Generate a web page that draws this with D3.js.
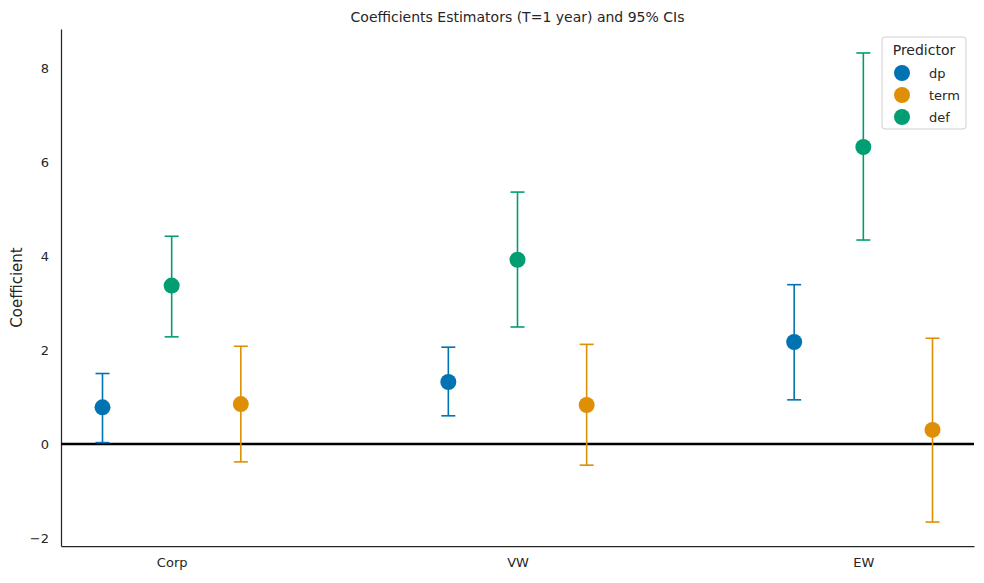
<!DOCTYPE html>
<html><head><meta charset="utf-8">
<script src="https://cdn.jsdelivr.net/npm/d3@7"></script>
<style>body{margin:0;background:#fff}text{font-family:"DejaVu Sans",sans-serif;fill:#262626}</style>
</head><body><svg id="c" width="984" height="583"></svg>
<script>
var categories = ["Corp", "VW", "EW"];
var series = ["dp", "term", "def"];
var colors = ["#0173b2", "#de8f05", "#029e73"];
var offsets = [-0.2, 0.2, 0];
var estimates = {dp: [0.78, 1.32, 2.17], term: [0.85, 0.83, 0.30], def: [3.37, 3.92, 6.32]};
var lower = {dp: [0.03, 0.60, 0.94], term: [-0.38, -0.45, -1.66], def: [2.28, 2.49, 4.34]};
var upper = {dp: [1.50, 2.06, 3.39], term: [2.08, 2.12, 2.25], def: [4.42, 5.36, 8.32]};
var yTicks = [-2, 0, 2, 4, 6, 8];

var svg = d3.select("#c");
var L = 61, R = 974, T = 29, B = 546;
var x = d3.scaleLinear().domain([-0.32, 2.32]).range([L, R]);
var y = d3.scaleLinear().domain([-2.17, 8.83]).range([B, T]);

svg.append("text").attr("x", (L + R) / 2).attr("y", 22).attr("text-anchor", "middle")
  .style("font-size", "14px").text("Coefficients Estimators (T=1 year) and 95% CIs");

var ya = svg.append("g").attr("transform", "translate(" + L + ",0)")
  .call(d3.axisLeft(y).tickValues(yTicks).tickSize(0).tickPadding(12).tickFormat(function(d){return d < 0 ? "\u2212" + (-d) : d;}));
var xa = svg.append("g").attr("transform", "translate(0," + B + ")")
  .call(d3.axisBottom(x).tickValues([0, 1, 2]).tickSize(0).tickPadding(12).tickFormat(function(d){return categories[d];}));
[ya, xa].forEach(function(a){
  a.select(".domain").attr("stroke", "#262626").attr("stroke-width", 1.25);
  a.selectAll("text").style("font-size", "13px");
});
svg.append("text").attr("transform", "translate(22," + ((T + B) / 2) + ") rotate(-90)")
  .attr("text-anchor", "middle").style("font-size", "15px").text("Coefficient");

svg.append("line").attr("x1", L).attr("x2", R).attr("y1", y(0)).attr("y2", y(0))
  .attr("stroke", "#000").attr("stroke-width", 2.5);

series.forEach(function(s, i){
  var g = svg.append("g");
  categories.forEach(function(c, j){
    var cx = x(j + offsets[i]);
    g.append("line").attr("x1", cx).attr("x2", cx).attr("y1", y(lower[s][j])).attr("y2", y(upper[s][j]))
      .attr("stroke", colors[i]).attr("stroke-width", 1.6);
    [lower[s][j], upper[s][j]].forEach(function(v){
      g.append("line").attr("x1", cx - 7).attr("x2", cx + 7).attr("y1", y(v)).attr("y2", y(v))
        .attr("stroke", colors[i]).attr("stroke-width", 1.6);
    });
    g.append("circle").attr("cx", cx).attr("cy", y(estimates[s][j])).attr("r", 8).attr("fill", colors[i]);
  });
});

var lg = svg.append("g").attr("transform", "translate(882,37)");
lg.append("rect").attr("width", 84).attr("height", 92).attr("rx", 3).attr("fill", "#fff").attr("stroke", "#d0d0d0");
lg.append("text").attr("x", 42).attr("y", 18).attr("text-anchor", "middle").style("font-size", "14px").text("Predictor");
series.forEach(function(s, i){
  lg.append("circle").attr("cx", 20).attr("cy", 36 + i * 22).attr("r", 8).attr("fill", colors[i]);
  lg.append("text").attr("x", 47).attr("y", 41 + i * 22).style("font-size", "13px").text(s);
});
</script></body></html>
